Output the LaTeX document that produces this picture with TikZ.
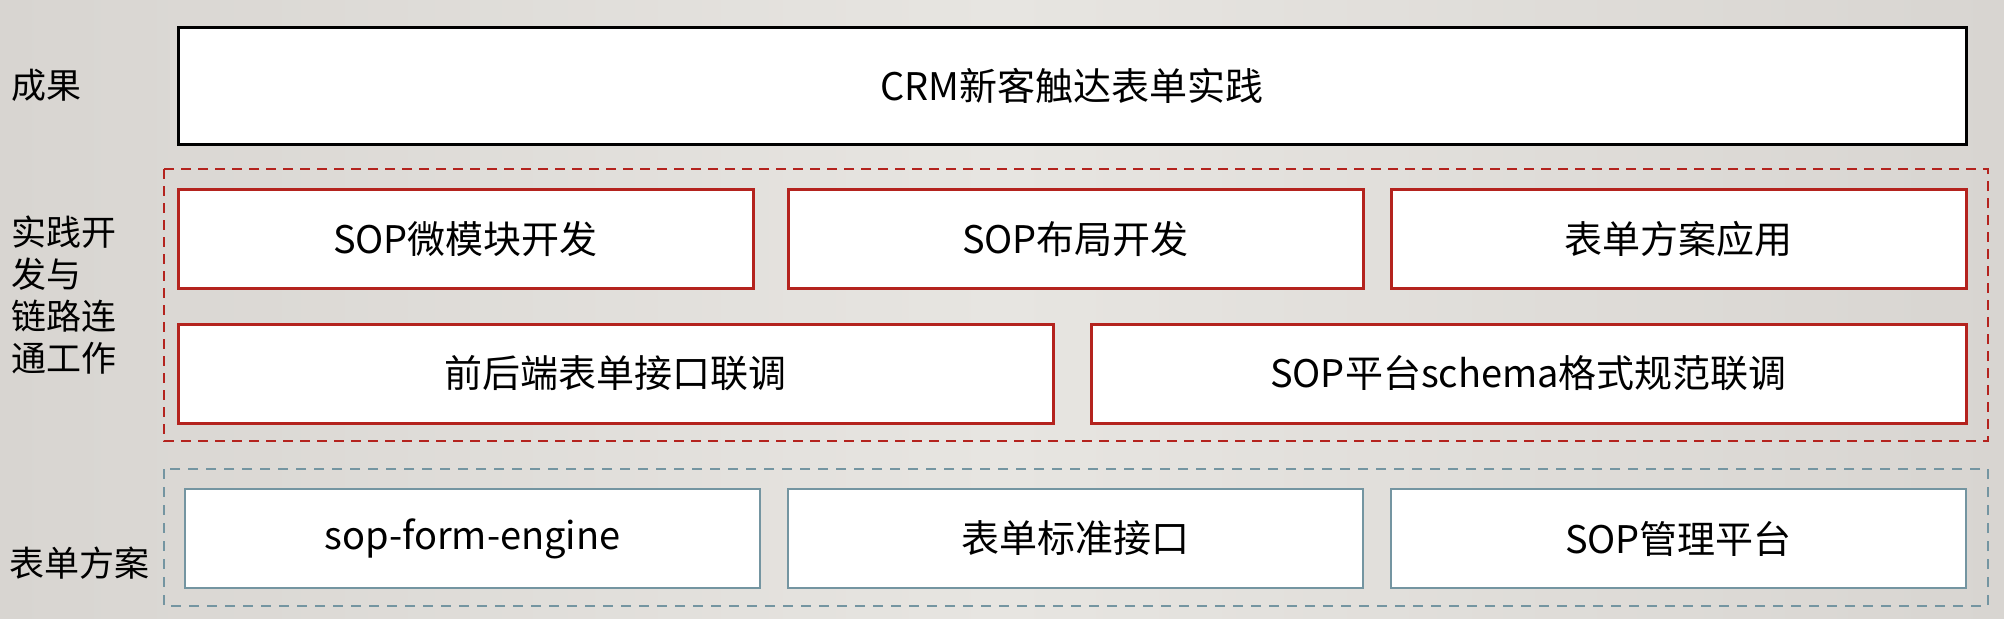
\documentclass[tikz,border=0pt]{standalone}
\usepackage{fontspec}
\setmainfont{Noto Sans CJK SC}
\usepackage{xcolor}

\definecolor{bgmid}{RGB}{231,229,225}
\definecolor{bgside}{RGB}{216,213,209}
\definecolor{sopred}{RGB}{180,35,30}
\definecolor{sopblue}{RGB}{116,149,161}

\tikzset{
    boxfont/.style={font=\fontsize{19}{22}\selectfont},
    goalbox/.style={draw=black, line width=1.5pt, fill=white, inner sep=0pt, boxfont,
        minimum width=894pt, minimum height=58.5pt},
    devbox/.style={draw=sopred, line width=1.5pt, fill=white, inner sep=0pt, boxfont, minimum height=49.5pt},
    formbox/.style={draw=sopblue, line width=1.3pt, fill=white, inner sep=0pt, boxfont, minimum height=49.5pt},
    devframe/.style={draw=sopred, line width=1.4pt, dash pattern=on 5pt off 3.5pt},
    formframe/.style={draw=sopblue, line width=1.2pt, dash pattern=on 5pt off 4pt},
    sidetext/.style={anchor=west, align=left, inner sep=0pt, font=\fontsize{17.5}{20.85}\selectfont}
}

\begin{document}
\begin{tikzpicture}[x=0.5pt, y=-0.5pt]
    \useasboundingbox (0,0) rectangle (2004,618);
    \shade[left color=bgside, right color=bgside, middle color=bgmid] (0,0) rectangle (2004,618);

    % Layer labels
    \node[sidetext] (goal) at (11,85) {成果};
    \node[sidetext] (dev) at (11,295) {实践开\\发与\\链路连\\通工作};
    \node[sidetext] (form) at (9,563) {表单方案};

    % Result
    \node[goalbox] (crm) at (1072,85.5) {CRM新客触达表单实践};

    % Development and integration
    \draw[devframe] (164,169) rectangle (1988,441);
    \node[devbox, minimum width=287.5pt] (micro) at (465.5,239) {SOP微模块开发};
    \node[devbox, minimum width=287.5pt] (layout) at (1075.5,239) {SOP布局开发};
    \node[devbox, minimum width=287.5pt] (apply) at (1678.5,239) {表单方案应用};
    \node[devbox, minimum width=437.5pt] (joint) at (615.5,373.5) {前后端表单接口联调};
    \node[devbox, minimum width=437.5pt] (schema) at (1528.5,373.5) {SOP平台schema格式规范联调};

    % Form solution
    \draw[formframe] (164,469) rectangle (1988,606);
    \node[formbox, minimum width=287.5pt] (engine) at (472.5,538.5) {sop-form-engine};
    \node[formbox, minimum width=287.5pt] (api) at (1075.5,538.5) {表单标准接口};
    \node[formbox, minimum width=287.5pt] (admin) at (1678.5,538.5) {SOP管理平台};
\end{tikzpicture}
\end{document}
